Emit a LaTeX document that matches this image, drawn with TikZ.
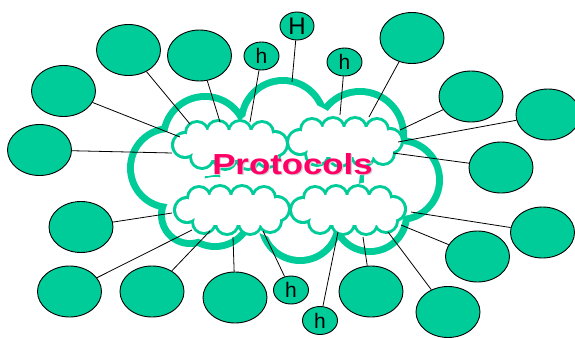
\documentclass[tikz,border=0pt]{standalone}
\usepackage{fontspec}
\setmainfont{Liberation Sans}
\usetikzlibrary{shapes.geometric}
\definecolor{cloudgreen}{RGB}{0,204,153}
\definecolor{protopink}{RGB}{255,0,102}
\definecolor{shadowgrey}{RGB}{215,205,210}

\tikzset{
  blob/.style={ellipse, draw=black, line width=0.9pt, fill=cloudgreen,
    minimum width=64pt, minimum height=51pt, inner sep=0pt},
  hblob/.style={blob, minimum width=35pt, minimum height=28pt,
    font=\fontsize{21}{21}\selectfont},
  bigHblob/.style={hblob, minimum width=34pt, minimum height=28pt,
    font=\fontsize{24}{24}\selectfont},
  link/.style={draw=black, line width=0.8pt},
  % small cloud: green discs, then white discs 3pt smaller and a white core
  puff/.pic={
    \fill[cloudgreen] \foreach \x/\y/\r in
      {-33/-12/13,-12/-13/13,10/-13/13,32/-12/13,
       -28/12/13,-5/13/13,18/13/13,38/11/13,-45/0/14,45/-1/14}
      {(\x,\y) circle[radius=\r pt]};
    \fill[white] \foreach \x/\y/\r [evaluate=\r as \ri using \r-3] in
      {-33/-12/13,-12/-13/13,10/-13/13,32/-12/13,
       -28/12/13,-5/13/13,18/13/13,38/11/13,-45/0/14,45/-1/14}
      {(\x,\y) circle[radius=\ri pt]};
    \fill[white] (-36,-15.5) rectangle (35,15);
  }
}

\begin{document}
\begin{tikzpicture}[x=1pt,y=-1pt]
\useasboundingbox (0,0) rectangle (575,337);
\fill[white] (0,0) rectangle (575,337);

% big cloud with a thick green rim
\fill[cloudgreen] \foreach \x/\y/\r in
  {205/138/45,283/122/45,360/135/47,400/180/43,370/215/40,
   300/222/42,215/210/40,170/168/43,190/215/32}
  {(\x,\y) circle[radius=\r pt]};
\fill[white] \foreach \x/\y/\r [evaluate=\r as \ri using \r-7] in
  {205/138/45,283/122/45,360/135/47,400/180/43,370/215/40,
   300/222/42,215/210/40,170/168/43,190/215/32}
  {(\x,\y) circle[radius=\ri pt]};
\fill[white] (290,170) circle[radius=70pt];

% four small clouds inside
\pic at (230,145) {puff};
\pic at (345,142) {puff};
\pic at (232,210) {puff};
\pic at (348,210) {puff};

% label with a faint drop shadow
\node[font=\fontsize{29}{29}\selectfont\bfseries, text=protopink, xscale=1.2,
  anchor=base] (label) at (292.5,174)
  {\rlap{\kern1pt\raisebox{-1pt}{\textcolor{shadowgrey}{Protocols}}}Protocols};

% hosts around the cloud
\node[blob] (a) at (128.5,50) {};
\node[blob] (b) at (199.5,55.5) {};
\node[blob] (c) at (63.5,91) {};
\node[blob] (d) at (39.5,150) {};
\node[hblob] (hl) at (261.5,56) {h};
\node[bigHblob] (hh) at (297,26) {H};
\node[hblob] (hr) at (344.5,62) {h};
\node[blob] (e) at (412,38) {};
\node[blob] (f) at (471,96.5) {};
\node[blob] (g) at (548,114.5) {};
\node[blob] (k2) at (501,167.5) {};
\node[blob] (i) at (81,227) {};
\node[blob] (j) at (69.5,291.5) {};
\node[blob] (k) at (152,291.5) {};
\node[blob] (l) at (235,297.5) {};
\node[hblob] (hb1) at (291,290) {h};
\node[hblob] (hb2) at (320,320.5) {h};
\node[blob] (m) at (371,291.5) {};
\node[blob] (n) at (448,312) {};
\node[blob] (o) at (477.5,256.5) {};
\node[blob] (p) at (542.5,232.5) {};

% attachment points on the cloud
\coordinate (ca) at (190,124);
\coordinate (cb) at (220,122);
\coordinate (cc) at (180,137);
\coordinate (cd) at (172,153);
\coordinate (chl) at (250,122);
\coordinate (chh) at (292,82);
\coordinate (chr) at (340,115);
\coordinate (ce) at (369,117);
\coordinate (cf) at (400,130);
\coordinate (cg) at (398,142);
\coordinate (ck2) at (393,153);
\coordinate (ci) at (172,213);
\coordinate (cj) at (192,230);
\coordinate (ck) at (210,231);
\coordinate (cl) at (233,237);
\coordinate (chb1) at (263,231);
\coordinate (chb2) at (338,232);
\coordinate (cm) at (363,237);
\coordinate (cn) at (388,232);
\coordinate (co) at (401,225);
\coordinate (cp) at (411,212);

\foreach \h in {a,b,c,d,hl,hh,hr,e,f,g,k2,i,j,k,l,hb1,hb2,m,n,o,p}
  \draw[link] (\h) -- (c\h);
\end{tikzpicture}
\end{document}
